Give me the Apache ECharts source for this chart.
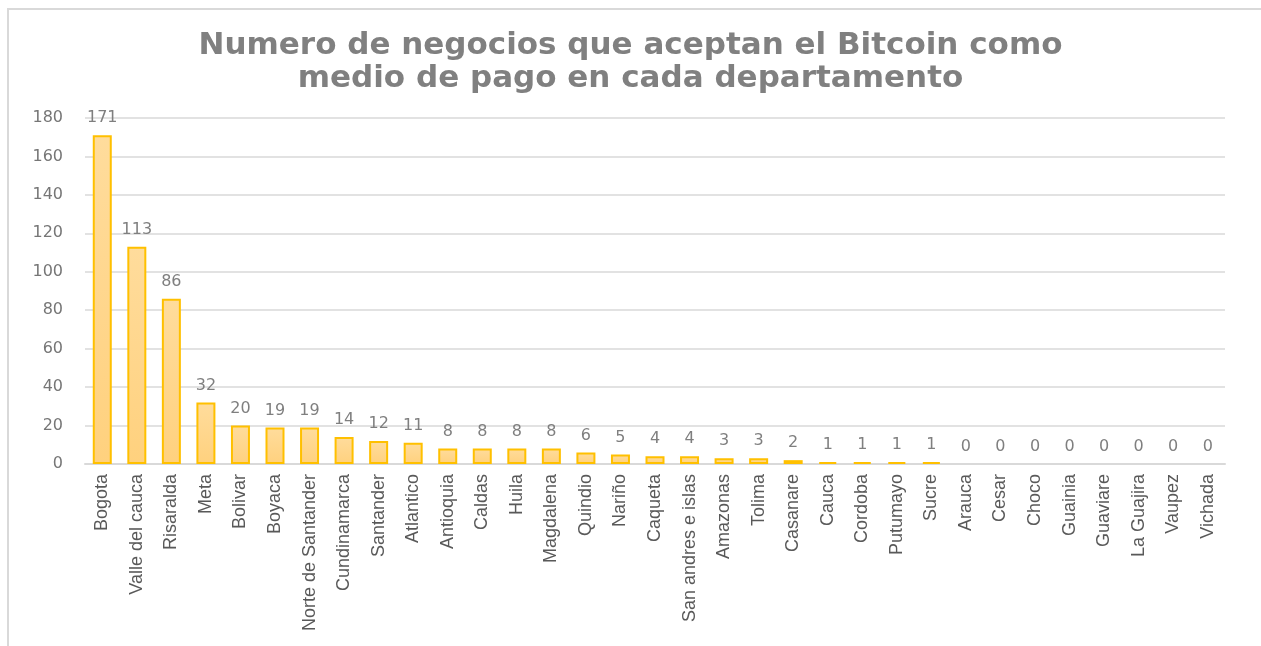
<!DOCTYPE html>
<html>
<head>
<meta charset="utf-8">
<script src="https://cdn.jsdelivr.net/npm/echarts@6/dist/echarts.min.js"></script>
<style>
  html, body { margin: 0; padding: 0; background: #fff; overflow: hidden; }
  #frame { position: absolute; left: 7px; top: 8px; width: 1400px; height: 700px; border-top: 2px solid #d9d9d9; border-left: 2px solid #d9d9d9; box-sizing: border-box; }
  #chart { position: absolute; left: 0; top: 0; width: 1261px; height: 646px; }
</style>
</head>
<body>
<div id="frame"></div>
<div id="chart"></div>
<script>
const departamentos = [
  "Bogota", "Valle del cauca", "Risaralda", "Meta", "Bolivar", "Boyaca",
  "Norte de Santander", "Cundinamarca", "Santander", "Atlantico", "Antioquia",
  "Caldas", "Huila", "Magdalena", "Quindio", "Nariño", "Caqueta",
  "San andres e islas", "Amazonas", "Tolima", "Casanare", "Cauca", "Cordoba",
  "Putumayo", "Sucre", "Arauca", "Cesar", "Choco", "Guainia", "Guaviare",
  "La Guajira", "Vaupez", "Vichada"
];
const negocios = [
  171, 113, 86, 32, 20, 19, 19, 14, 12, 11, 8, 8, 8, 8, 6, 5, 4,
  4, 3, 3, 2, 1, 1, 1, 1, 0, 0, 0, 0, 0, 0, 0, 0
];
const titleText = "Numero de negocios que aceptan el Bitcoin como\nmedio de pago en cada departamento";

const chart = echarts.init(document.getElementById("chart"), null, { renderer: "canvas" });

// zero bars have no visible outline in the original
const barData = negocios.map((v) => v === 0 ? { value: v, itemStyle: { borderWidth: 0 } } : v);

chart.setOption({
  backgroundColor: "transparent",
  animation: false,
  title: {
    text: titleText,
    left: "center",
    top: 24,
    textStyle: {
      color: "#808080",
      fontSize: 31,
      fontWeight: "bold",
      fontFamily: "DejaVu Sans",
      lineHeight: 33
    }
  },
  grid: { left: 85, right: 36, top: 118, bottom: 182 },
  xAxis: {
    type: "category",
    data: departamentos,
    axisLine: { lineStyle: { color: "#d9d9d9", width: 2 } },
    axisTick: { show: false },
    axisLabel: {
      rotate: 90,
      interval: 0,
      margin: 10,
      color: "#595959",
      fontSize: 18,
      fontFamily: "Liberation Sans"
    }
  },
  yAxis: {
    type: "value",
    min: 0,
    max: 180,
    interval: 20,
    axisLine: { show: false },
    axisTick: { show: false },
    splitLine: { lineStyle: { color: "#d9d9d9", width: 1.5 } },
    axisLabel: {
      margin: 22,
      color: "#767676",
      fontSize: 16,
      fontFamily: "DejaVu Sans"
    }
  },
  series: [{
    type: "bar",
    data: barData,
    barWidth: "55%",
    itemStyle: {
      color: new echarts.graphic.LinearGradient(0, 0, 0, 1, [
        { offset: 0, color: "#ffdc9c" },
        { offset: 1, color: "#ffd17e" }
      ]),
      borderColor: "#ffc000",
      borderWidth: 2
    },
    label: {
      show: true,
      position: "top",
      distance: 9,
      color: "#7f7f7f",
      fontSize: 16,
      fontFamily: "DejaVu Sans"
    }
  }]
});
</script>
</body>
</html>
